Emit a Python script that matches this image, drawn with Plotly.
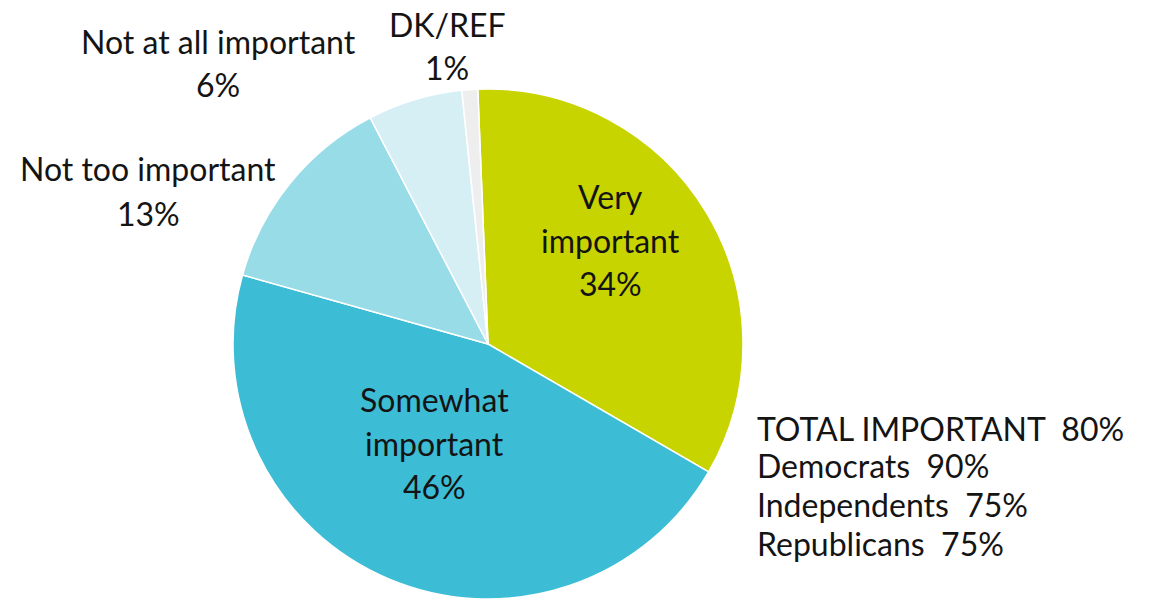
import plotly.graph_objects as go

# Survey responses: how important the issue is
labels = ["Very important", "Somewhat important", "Not too important",
          "Not at all important", "DK/REF"]
label_lines = [["Very", "important"], ["Somewhat", "important"],
               ["Not too important"], ["Not at all important"], ["DK/REF"]]
values = [34, 46, 13, 6, 1]
colors = ["#c8d400", "#3dbcd6", "#98dce8", "#d5eff5", "#eeeeee"]

# Share saying "important" by party
groups = ["TOTAL IMPORTANT", "Democrats", "Independents", "Republicans"]
group_values = [80, 90, 75, 75]

W, H = 1152, 600
FONT = "Lato, 'Open Sans', sans-serif"
FSIZE = 32
WEIGHT = 400
INK = "#141414"

fig = go.Figure(go.Pie(
    labels=labels,
    values=values,
    sort=False,
    direction="clockwise",
    rotation=-2.3,
    marker=dict(colors=colors, line=dict(color="white", width=1.5)),
    textinfo="none",
    hoverinfo="label+percent",
    domain=dict(x=[233 / W, 743 / W], y=[1 / H, 511 / H]),
    showlegend=False,
))


def px_x(x):
    return x / W


def px_y(y):
    return 1 - y / H


annotations = []

# label block anchors: (center x, center y of each line)
slice_label_pos = [
    (610, [196, 240, 283]),
    (434, [399, 443, 486]),
    (148, [168, 213]),
    (218, [41, 84]),
    (447, [24, 68]),
]

for lines, val, (cx, ys) in zip(label_lines, values, slice_label_pos):
    texts = lines + [f"{val}%"]
    for t, y in zip(texts, ys):
        annotations.append(dict(
            x=px_x(cx), y=px_y(y), xref="paper", yref="paper",
            text=t, showarrow=False, xanchor="center", yanchor="middle",
            font=dict(family=FONT, size=FSIZE, color=INK, weight=WEIGHT),
        ))

# party breakdown block
for g, v, y in zip(groups, group_values, [428, 466, 504, 543]):
    annotations.append(dict(
        x=px_x(755), y=px_y(y), xref="paper", yref="paper",
        text=f"{g}\u00a0 {v}%", showarrow=False,
        xanchor="left", yanchor="middle",
        font=dict(family=FONT, size=FSIZE, color=INK, weight=WEIGHT),
    ))

fig.update_layout(
    width=W, height=H,
    margin=dict(l=0, r=0, t=0, b=0),
    paper_bgcolor="white",
    plot_bgcolor="white",
    annotations=annotations,
)

fig.write_html("out.html")
